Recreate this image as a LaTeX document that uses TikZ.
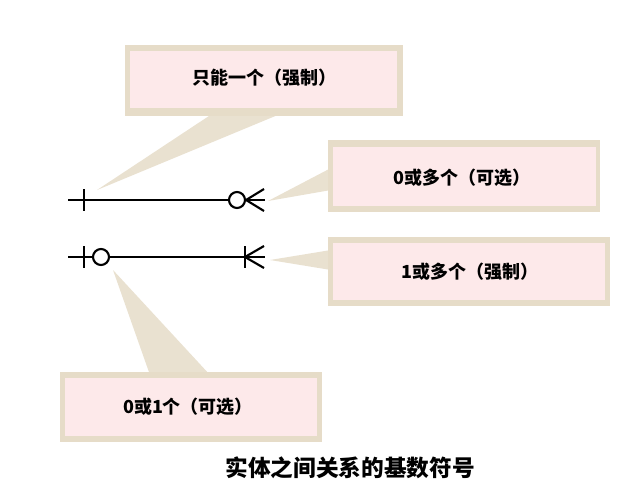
\documentclass[tikz,border=0pt]{standalone}
\usepackage{fontspec}
\newfontfamily\cjk{Noto Sans CJK SC}
\begin{document}
\begin{tikzpicture}[x=0.75pt,y=-0.75pt,
  frame/.style={fill=frameC,draw=none},
  inner/.style={fill=pinkC,draw=none},
  tail/.style={fill=frameC,draw=none,fill opacity=0.85},
  lbl/.style={font=\cjk\bfseries\fontsize{13.5}{16}\selectfont,text=black},
  sym/.style={line width=1.6pt,black}]
\definecolor{frameC}{HTML}{E6DCC8}
\definecolor{pinkC}{HTML}{FDE9EA}
\useasboundingbox[fill=white] (0,0) rectangle (617,500);
% tails
\fill[tail] (215,112) -- (285,112) -- (97,190) -- cycle;
\fill[tail] (331,168) -- (331,190) -- (268,201) -- cycle;
\fill[tail] (331,250) -- (331,270) -- (270,260) -- cycle;
\fill[tail] (150,375) -- (210,375) -- (113,270) -- cycle;
% callouts
\fill[frame] (125,45) rectangle (403,116);
\fill[inner] (130,51) rectangle (397,108);
\node[lbl] (c1) at (264,78) {只能一个（强制）};
\fill[frame] (328,140) rectangle (600,212);
\fill[inner] (333,147) rectangle (596,206);
\node[lbl] (c2) at (462,178) {0或多个（可选）};
\fill[frame] (328,237) rectangle (610,306);
\fill[inner] (333,243) rectangle (605,300);
\node[lbl] (c3) at (470,272) {1或多个（强制）};
\fill[frame] (60,372) rectangle (322,442);
\fill[inner] (65,378) rectangle (317,436);
\node[lbl] (c4) at (188,407) {0或1个（可选）};
% symbols
\coordinate (a1) at (68,200); \coordinate (a2) at (229,200);
\draw[sym] (a1) -- (a2);
\draw[sym] (84,189) -- (84,211);
\node[sym,draw,circle,minimum size=12pt,inner sep=0pt] (o1) at (237,200) {};
\draw[sym] (o1.east) -- (265,200);
\draw[sym] (o1.east) -- (264,189);
\draw[sym] (o1.east) -- (264,211);
\coordinate (b1) at (68,257);
\draw[sym] (b1) -- (93,257);
\draw[sym] (84,246) -- (84,268);
\node[sym,draw,circle,minimum size=12pt,inner sep=0pt] (o2) at (101,257) {};
\draw[sym] (o2.east) -- (265,257);
\draw[sym] (245,246) -- (245,268);
\draw[sym] (245,257) -- (264,246);
\draw[sym] (245,257) -- (264,268);
\node[font=\cjk\bfseries\fontsize{17}{20}\selectfont] (cap) at (350,468) {实体之间关系的基数符号};
\end{tikzpicture}
\end{document}
